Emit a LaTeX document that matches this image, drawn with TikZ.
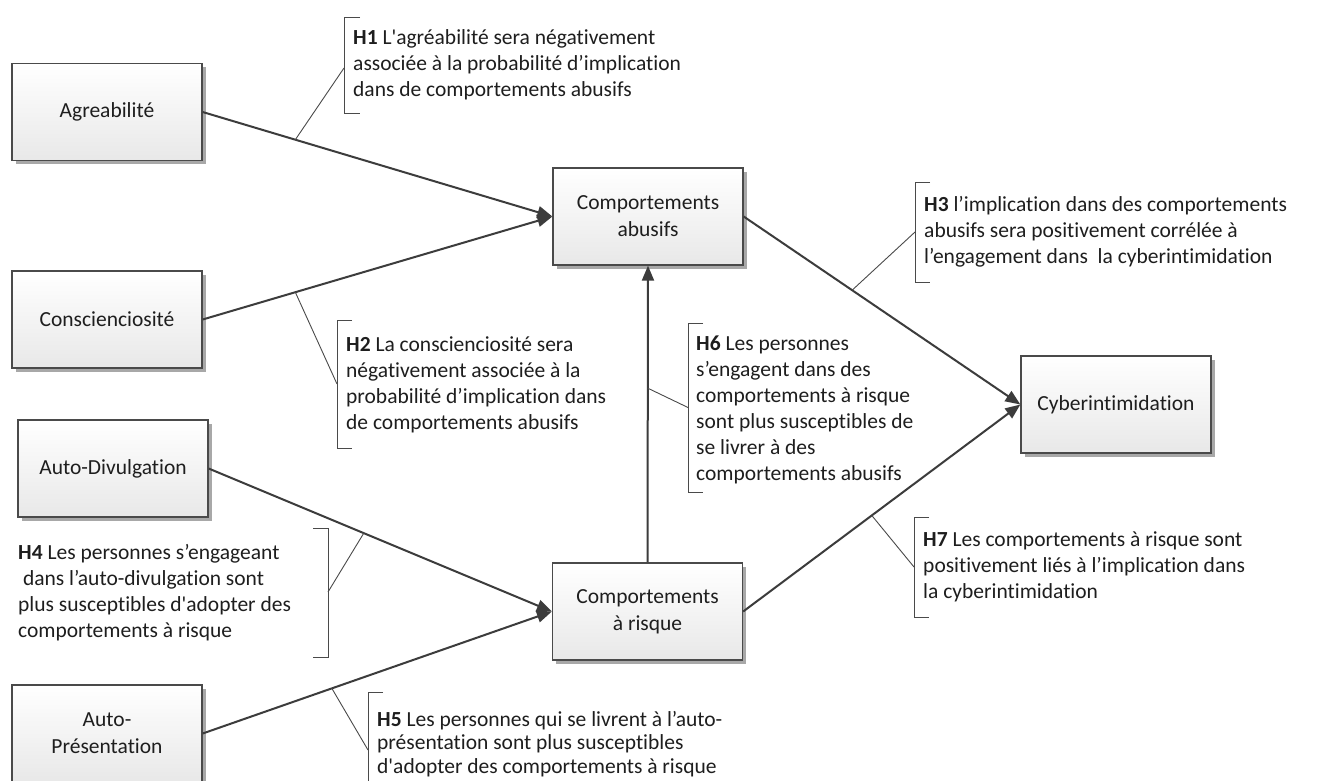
\documentclass[tikz,border=0pt]{standalone}
\usepackage{fontspec}
\newfontfamily\calib{Carlito}[Ligatures=NoCommon]
\usetikzlibrary{arrows.meta,calc,shadows}
\definecolor{edgegray}{HTML}{4A4A4A}
\definecolor{linkgray}{HTML}{3C3C3C}
\definecolor{shadegray}{HTML}{A8A8A8}
\definecolor{inkgray}{HTML}{1E1E1E}
\tikzset{
  factor/.style={draw=edgegray, line width=1.3pt, top color=white, bottom color=black!9,
    minimum width=190pt, minimum height=97pt, align=center, inner sep=0pt, text=inkgray,
    font=\calib\fontsize{21.5}{27}\selectfont,
    drop shadow={shadow xshift=3.5pt, shadow yshift=-3.5pt, fill=shadegray, opacity=1}},
  link/.style={draw=linkgray, line width=2pt, -{Triangle[length=15pt,width=12pt]}},
  leader/.style={draw=edgegray, line width=0.9pt},
  hyp/.style={anchor=west, align=left, inner sep=0pt, text=inkgray,
    font=\calib\fontsize{21.5}{26}\selectfont},
}
\begin{document}
\begin{tikzpicture}[x=1pt,y=-1pt]
\useasboundingbox[fill=white] (0,0) rectangle (1329,780);

% factors
\node[factor] (agr) at (107,112)     {Agreabilité};
\node[factor] (con) at (107,319.5)   {Conscienciosité};
\node[factor] (div) at (113,468.5)   {Auto-Divulgation};
\node[factor] (pre) at (107,733.5)   {Auto-\\Présentation};
\node[factor] (abu) at (648,216.5)   {Comportements\\abusifs};
\node[factor] (ris) at (647.5,611.5) {Comportements\\à risque};
\node[factor] (cyb) at (1116,404.5)  {Cyberintimidation};

% hypothesised paths
\draw[link] (agr.east) -- (abu.west);
\draw[link] (con.east) -- (abu.west);
\draw[link] (div.east) -- (ris.west);
\draw[link] (pre.east) -- (ris.west);
\draw[link] (ris.north) -- (abu.south);
\draw[link] (abu.east) -- (cyb.west);
\draw[link] (ris.east) -- (cyb.west);

% anchor points of the callouts on the paths
\coordinate (p1) at ($(agr.east)!0.265!(abu.west)$);
\coordinate (p2) at ($(con.east)!0.265!(abu.west)$);
\coordinate (p3) at ($(abu.east)!0.392!(cyb.west)$);
\coordinate (p4) at ($(div.east)!0.452!(ris.west)$);
\coordinate (p5) at ($(pre.east)!0.370!(ris.west)$);
\coordinate (p6) at ($(ris.north)!0.587!(abu.south)$);
\coordinate (p7) at ($(ris.east)!0.464!(cyb.west)$);

% bracket midpoints
\coordinate (b1) at (344,65);
\coordinate (b2) at (337,384);
\coordinate (b3) at (915,232);
\coordinate (b4) at (328,592);
\coordinate (b5) at (368,750);
\coordinate (b6) at (688,407.5);
\coordinate (b7) at (914,567);

% brackets
\draw[leader] ($(b1)+(16,-48)$) -- ($(b1)+(0,-48)$) -- ($(b1)+(0,48)$) -- ($(b1)+(16,48)$);
\draw[leader] ($(b2)+(15,-64)$) -- ($(b2)+(0,-64)$) -- ($(b2)+(0,64)$) -- ($(b2)+(15,64)$);
\draw[leader] ($(b3)+(15,-50)$) -- ($(b3)+(0,-50)$) -- ($(b3)+(0,50)$) -- ($(b3)+(15,50)$);
\draw[leader] ($(b4)+(-15,-64)$) -- ($(b4)+(0,-64)$) -- ($(b4)+(0,65)$) -- ($(b4)+(-15,65)$);
\draw[leader] ($(b5)+(15,-58)$) -- ($(b5)+(0,-58)$) -- ($(b5)+(0,58)$) -- ($(b5)+(15,58)$);
\draw[leader] ($(b6)+(15,-84.5)$) -- ($(b6)+(0,-84.5)$) -- ($(b6)+(0,84.5)$) -- ($(b6)+(15,84.5)$);
\draw[leader] ($(b7)+(15,-50)$) -- ($(b7)+(0,-50)$) -- ($(b7)+(0,50)$) -- ($(b7)+(15,50)$);

% callout leaders
\draw[leader] (p1) -- ($(b1)+(0,3)$);
\draw[leader] (p2) -- (b2);
\draw[leader] (p3) -- (b3);
\draw[leader] (p4) -- (b4);
\draw[leader] (p5) -- (b5);
\draw[leader] (p6) -- (b6);
\draw[leader] (p7) -- (b7);

% hypotheses
\node[hyp] (h1) at ($(b1)+(9,0)$) {\textbf{H1} L'agréabilité sera négativement\\associée à la probabilité d’implication\\dans de comportements abusifs};
\node[hyp] (h2) at ($(b2)+(9,1)$) {\textbf{H2} La conscienciosité sera\\négativement associée à la\\probabilité d’implication dans\\de comportements abusifs};
\node[hyp] (h3) at ($(b3)+(9,0)$) {\textbf{H3} l’implication dans des comportements\\abusifs sera positivement corrélée à\\l’engagement dans~ la cyberintimidation};
\node[hyp] (h4) at (18,593) {\textbf{H4} Les personnes s’engageant\\\ dans l’auto-divulgation sont\\plus susceptibles d'adopter des\\comportements à risque};
\node[hyp, font=\calib\fontsize{21.5}{23.5}\selectfont] (h5) at ($(b5)+(9,-6)$) {\textbf{H5} Les personnes qui se livrent à l’auto-\\présentation sont plus susceptibles\\d'adopter des comportements à risque};
\node[hyp] (h6) at ($(b6)+(8,2)$) {\textbf{H6} Les personnes\\s’engagent dans des\\comportements à risque\\sont plus susceptibles de\\se livrer à des\\comportements abusifs};
\node[hyp] (h7) at ($(b7)+(9,0)$) {\textbf{H7} Les comportements à risque sont\\positivement liés à l’implication dans\\la cyberintimidation};
\end{tikzpicture}
\end{document}
